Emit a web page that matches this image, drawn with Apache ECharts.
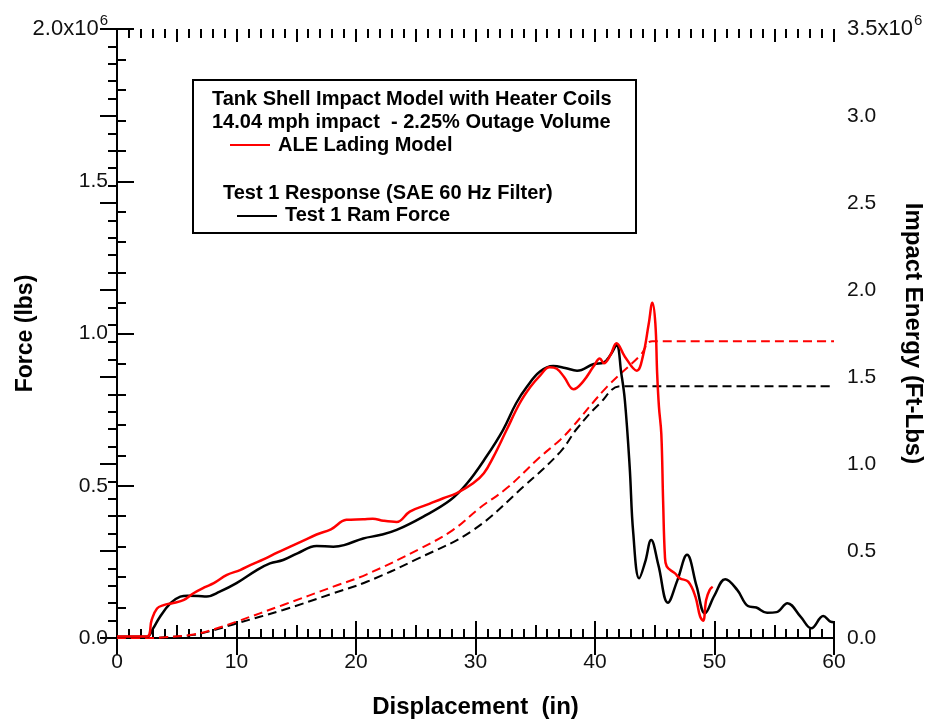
<!DOCTYPE html>
<html>
<head>
<meta charset="utf-8">
<title>Tank Shell Impact Model with Heater Coils</title>
<script src="https://cdn.jsdelivr.net/npm/echarts@6/dist/echarts.min.js"></script>
<style>
  html, body { margin: 0; padding: 0; background: #fff; }
  #chart { width: 927px; height: 721px; }
</style>
</head>
<body>
<div id="chart"></div>
<script>
// Force values are in millions of lbs, energy values in millions of ft-lbs.
const ramDisp = [0, 2.5, 3.0, 3.6, 4.5, 5.3, 5.9, 6.8, 7.5, 8.6, 10, 11.7, 12.8, 13.9, 15.1, 16.7, 18.1, 19, 20.6, 22.0, 23.4, 25.6, 27.9, 29.3, 30.9, 32.3, 33.4, 34.3, 35.4, 36.5, 37.5, 38.5, 39.9, 40.7, 41.3, 41.8, 42.2, 42.5, 42.9, 43.2, 43.7, 44.2, 44.7, 45.3, 46.1, 46.9, 47.7, 48.5, 49.2, 50.0, 50.9, 51.9, 52.8, 53.5, 54.4, 55.2, 56.1, 57.2, 58.1, 59.1, 59.7, 60];
const ramForce = [0.004, 0.004, 0.03, 0.07, 0.115, 0.136, 0.139, 0.138, 0.136, 0.152, 0.18, 0.223, 0.245, 0.256, 0.278, 0.302, 0.300, 0.305, 0.327, 0.338, 0.355, 0.398, 0.453, 0.508, 0.595, 0.683, 0.771, 0.825, 0.875, 0.893, 0.887, 0.878, 0.90, 0.904, 0.93, 0.962, 0.869, 0.78, 0.563, 0.345, 0.196, 0.25, 0.322, 0.24, 0.116, 0.19, 0.273, 0.17, 0.081, 0.14, 0.193, 0.158, 0.105, 0.10, 0.083, 0.085, 0.114, 0.07, 0.032, 0.072, 0.054, 0.052];

const aleDisp = [0, 2.5, 2.9, 3.35, 3.9, 4.7, 5.6, 6.4, 7.3, 8.1, 9.2, 10.3, 11.2, 12.3, 13.4, 14.5, 15.6, 16.7, 17.9, 19.2, 20.6, 21.4, 22.3, 23.4, 24.5, 25.9, 27.3, 28.4, 29.8, 30.7, 31.5, 32.6, 33.7, 34.6, 35.4, 36.2, 36.8, 37.4, 38.2, 39.0, 39.9, 40.4, 40.75, 41.3, 41.8, 42.5, 43.5, 44.0, 44.5, 44.8, 45.05, 45.2, 45.35, 45.55, 45.7, 45.85, 46.0, 46.7, 47.1, 47.8, 48.4, 48.8, 49.05, 49.3, 49.6, 49.85];
const aleForce = [0.005, 0.005, 0.059, 0.097, 0.108, 0.115, 0.125, 0.147, 0.166, 0.18, 0.207, 0.223, 0.24, 0.259, 0.28, 0.30, 0.32, 0.34, 0.357, 0.388, 0.39, 0.392, 0.385, 0.381, 0.415, 0.437, 0.459, 0.475, 0.508, 0.541, 0.595, 0.683, 0.771, 0.825, 0.862, 0.889, 0.884, 0.858, 0.817, 0.842, 0.893, 0.918, 0.902, 0.93, 0.968, 0.924, 0.878, 0.924, 1.033, 1.101, 1.033, 0.87, 0.76, 0.67, 0.45, 0.27, 0.235, 0.212, 0.196, 0.185, 0.136, 0.07, 0.057, 0.125, 0.158, 0.168];

const aleEnergyDisp = [0, 2.5, 4, 6.4, 8.1, 10, 13.9, 18.1, 20.9, 25.4, 28.1, 30.4, 32.6, 35.4, 37.1, 38.0, 41.0, 43.8, 44.8, 60];
const aleEnergy = [0, 0, 0.004, 0.02, 0.05, 0.094, 0.19, 0.295, 0.366, 0.515, 0.62, 0.75, 0.86, 1.04, 1.14, 1.204, 1.443, 1.625, 1.706, 1.706];

const ramEnergyDisp = [0, 2.5, 4, 6.4, 8.1, 10, 13.9, 18.1, 20.9, 25, 29.8, 34, 37.1, 38.5, 40.4, 42.2, 60];
const ramEnergy = [0, 0, 0.004, 0.018, 0.045, 0.084, 0.161, 0.257, 0.323, 0.45, 0.62, 0.869, 1.07, 1.204, 1.348, 1.447, 1.447];

const forceTicks = { min: 0, max: 2.0, step: 0.5 };
const energyTicks = { min: 0, max: 3.5, step: 0.5 };
const dispTicks = { min: 0, max: 60, step: 10 };

const zip = (xs, ys) => xs.map((x, i) => [x, ys[i]]);

const FONT = 'Liberation Sans, Arial, sans-serif';
const axisLineStyle = { color: '#000', width: 2 };
const tickLine = { color: '#000', width: 2 };
const titleStyle = (size) => ({ fontSize: size, fontWeight: 'bold', fontFamily: FONT, color: '#000' });

function expLabel(top) {
  return function (v) {
    if (Math.abs(v - top) < 1e-9) return '{t|' + v.toFixed(1) + 'x10}{e|6}';
    return '{m|' + v.toFixed(1) + '}';
  };
}
const richExp = {
  m: { fontSize: 21, fontFamily: FONT, color: '#111' },
  t: { fontSize: 22, fontFamily: FONT, color: '#111' },
  e: { fontSize: 15, fontFamily: FONT, color: '#111', padding: [0, 0, 17, 1] }
};

// Bare axes that only contribute tick marks of a given length.
function tickAxis(kind, pos, range, step, len) {
  return {
    type: 'value', position: pos, min: range.min, max: range.max, interval: step,
    axisLine: { show: kind === 'frame', lineStyle: axisLineStyle },
    axisTick: { show: true, inside: true, length: len, lineStyle: tickLine },
    minorTick: { show: false },
    axisLabel: { show: false },
    splitLine: { show: false }
  };
}

const chart = echarts.init(document.getElementById('chart'), null, { renderer: 'canvas' });

const option = {
  animation: false,
  backgroundColor: '#fff',
  grid: { left: 117, top: 29, right: 93, bottom: 83, containLabel: false, outerBoundsMode: 'none' },
  xAxis: [
    {
      type: 'value', position: 'bottom', min: dispTicks.min, max: dispTicks.max, interval: dispTicks.step,
      name: 'Displacement  (in)', nameLocation: 'middle', nameGap: 57, nameMoveOverlap: false,
      nameTextStyle: titleStyle(24),
      axisLine: { show: true, lineStyle: axisLineStyle },
      axisTick: { show: true, inside: true, length: 17, lineStyle: tickLine },
      minorTick: { show: false },
      axisLabel: { show: true, margin: 14, fontSize: 21, fontFamily: FONT, color: '#111' },
      splitLine: { show: false }
    },
    tickAxis('ticks', 'bottom', dispTicks, 5, 13),
    tickAxis('ticks', 'bottom', dispTicks, 1, 9),
    tickAxis('frame', 'top', dispTicks, 10, 17),
    tickAxis('ticks', 'top', dispTicks, 5, 13),
    tickAxis('ticks', 'top', dispTicks, 1, 9)
  ],
  yAxis: [
    {
      type: 'value', position: 'left', min: forceTicks.min, max: forceTicks.max, interval: forceTicks.step,
      name: 'Force (lbs)', nameLocation: 'middle', nameGap: 80, nameRotate: 90, nameMoveOverlap: false,
      nameTextStyle: titleStyle(23),
      axisLine: { show: true, lineStyle: axisLineStyle },
      axisTick: { show: true, inside: true, length: 17, lineStyle: tickLine },
      minorTick: { show: false },
      axisLabel: { show: true, margin: 9, formatter: expLabel(forceTicks.max), rich: richExp },
      splitLine: { show: false }
    },
    {
      type: 'value', position: 'right', min: energyTicks.min, max: energyTicks.max, interval: energyTicks.step,
      name: 'Impact Energy (Ft-Lbs)', nameLocation: 'middle', nameGap: 67, nameRotate: -90, nameMoveOverlap: false,
      nameTextStyle: titleStyle(24),
      axisLine: { show: true, lineStyle: axisLineStyle },
      axisTick: { show: true, inside: true, length: 17, lineStyle: tickLine },
      minorTick: { show: false },
      axisLabel: { show: true, margin: 13, formatter: expLabel(energyTicks.max), rich: richExp },
      splitLine: { show: false }
    },
    tickAxis('ticks', 'left', forceTicks, 0.1, 9),
    tickAxis('ticks', 'right', energyTicks, 0.1, 9)
  ],
  series: [
    {
      name: 'Test 1 Impact Energy', type: 'line', xAxisIndex: 0, yAxisIndex: 1,
      data: zip(ramEnergyDisp, ramEnergy), showSymbol: false, smooth: 0.4,
      lineStyle: { color: '#000', width: 2, type: [9, 5] }, z: 3
    },
    {
      name: 'ALE Impact Energy', type: 'line', xAxisIndex: 0, yAxisIndex: 1,
      data: zip(aleEnergyDisp, aleEnergy), showSymbol: false, smooth: 0.4,
      lineStyle: { color: '#ff0000', width: 2, type: [9, 5] }, z: 3
    },
    {
      name: 'Test 1 Ram Force', type: 'line', xAxisIndex: 0, yAxisIndex: 0,
      data: zip(ramDisp, ramForce), showSymbol: false, smooth: 0.4,
      lineStyle: { color: '#000', width: 2.5 }, z: 4
    },
    {
      name: 'ALE Lading Model', type: 'line', xAxisIndex: 0, yAxisIndex: 0,
      data: zip(aleDisp, aleForce), showSymbol: false, smooth: 0.4,
      lineStyle: { color: '#ff0000', width: 2.5 }, z: 5
    }
  ],
  graphic: [
    { type: 'rect', z: 10, shape: { x: 193, y: 80, width: 443, height: 153 },
      style: { fill: '#fff', stroke: '#000', lineWidth: 2 } },
    { type: 'text', z: 11, x: 212, y: 99,
      style: { text: 'Tank Shell Impact Model with Heater Coils', font: 'bold 20px ' + FONT, fill: '#000', verticalAlign: 'middle' } },
    { type: 'text', z: 11, x: 212, y: 122,
      style: { text: '14.04 mph impact  - 2.25% Outage Volume', font: 'bold 20px ' + FONT, fill: '#000', verticalAlign: 'middle' } },
    { type: 'line', z: 11, shape: { x1: 230, y1: 145, x2: 270, y2: 145 },
      style: { stroke: '#ff0000', lineWidth: 2 } },
    { type: 'text', z: 11, x: 278, y: 145,
      style: { text: 'ALE Lading Model', font: 'bold 20px ' + FONT, fill: '#000', verticalAlign: 'middle' } },
    { type: 'text', z: 11, x: 223, y: 193,
      style: { text: 'Test 1 Response (SAE 60 Hz Filter)', font: 'bold 20px ' + FONT, fill: '#000', verticalAlign: 'middle' } },
    { type: 'line', z: 11, shape: { x1: 237, y1: 216, x2: 277, y2: 216 },
      style: { stroke: '#000', lineWidth: 2 } },
    { type: 'text', z: 11, x: 285, y: 215,
      style: { text: 'Test 1 Ram Force', font: 'bold 20px ' + FONT, fill: '#000', verticalAlign: 'middle' } }
  ]
};

chart.setOption(option);
</script>
</body>
</html>
